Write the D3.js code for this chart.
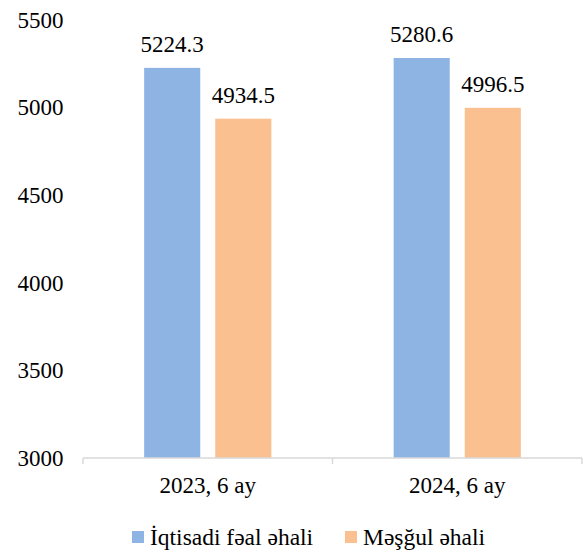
<!DOCTYPE html>
<html>
<head>
<meta charset="utf-8">
<script src="https://cdn.jsdelivr.net/npm/d3@7"></script>
<style>
  html, body { margin: 0; padding: 0; background: #fff; }
</style>
</head>
<body>
<svg id="chart" width="583" height="552"></svg>
<script>
// Population figures, thousand persons
const categories = ["2023, 6 ay", "2024, 6 ay"];
const seriesNames = ["İqtisadi fəal əhali", "Məşğul əhali"];
const activeValues = [5224.3, 5280.6];
const employedValues = [4934.5, 4996.5];
const yTicks = [3000, 3500, 4000, 4500, 5000, 5500];
const colors = ["#8EB4E3", "#FAC090"];

const svg = d3.select("#chart");
const plotLeft = 83, plotRight = 582, plotTop = 19.5, plotBottom = 458;
const fontFamily = "Liberation Serif";
const fontSize = 23;

const x = d3.scaleBand()
  .domain(categories)
  .range([plotLeft, plotRight]);

const xs = d3.scaleBand()
  .domain(seriesNames)
  .range([0, x.bandwidth()])
  .paddingInner(0.211)
  .paddingOuter(0.86);

const y = d3.scaleLinear()
  .domain([3000, 5500])
  .range([plotBottom, plotTop]);

// y tick labels (no axis line)
svg.append("g")
  .selectAll("text")
  .data(yTicks)
  .join("text")
  .attr("x", 63.5)
  .attr("y", d => y(d) + 8)
  .attr("text-anchor", "end")
  .attr("font-family", fontFamily)
  .attr("font-size", fontSize)
  .text(d => d);

// bars
const rows = categories.map((c, i) => ({
  cat: c,
  vals: [activeValues[i], employedValues[i]]
}));

const groups = svg.append("g")
  .selectAll("g")
  .data(rows)
  .join("g")
  .attr("transform", d => `translate(${x(d.cat)},0)`);

const cells = d => d.vals.map((v, j) => ({ name: seriesNames[j], v, j }));

groups.selectAll("rect")
  .data(cells)
  .join("rect")
  .attr("x", d => xs(d.name))
  .attr("width", xs.bandwidth())
  .attr("y", d => y(d.v))
  .attr("height", d => y(3000) - y(d.v))
  .attr("fill", d => colors[d.j]);

groups.selectAll("text.val")
  .data(cells)
  .join("text")
  .attr("class", "val")
  .attr("x", d => xs(d.name) + xs.bandwidth() / 2)
  .attr("y", d => y(d.v) - 15.5)
  .attr("text-anchor", "middle")
  .attr("font-family", fontFamily)
  .attr("font-size", fontSize)
  .text(d => d.v.toFixed(1));

// x axis: baseline, category boundary ticks, labels
const gx = svg.append("g")
  .attr("transform", `translate(0,${plotBottom})`);
gx.append("line")
  .attr("x1", plotLeft).attr("x2", plotRight)
  .attr("y1", 0).attr("y2", 0)
  .attr("stroke", "#d9d9d9").attr("stroke-width", 1.5);
const boundaries = [x(categories[0]), x(categories[1]), x(categories[1]) + x.bandwidth()];
gx.selectAll("line.tick")
  .data(boundaries)
  .join("line")
  .attr("class", "tick")
  .attr("x1", d => d).attr("x2", d => d)
  .attr("y1", 0).attr("y2", 6)
  .attr("stroke", "#d9d9d9").attr("stroke-width", 1.5);
gx.selectAll("text")
  .data(categories)
  .join("text")
  .attr("x", d => x(d) + x.bandwidth() / 2)
  .attr("y", 34.7)
  .attr("text-anchor", "middle")
  .attr("font-family", fontFamily)
  .attr("font-size", fontSize)
  .text(d => d);

// legend
const legendItems = [
  { name: seriesNames[0], color: colors[0], sx: 132, tx: 150 },
  { name: seriesNames[1], color: colors[1], sx: 345, tx: 363 }
];
const lg = svg.append("g");
lg.selectAll("rect")
  .data(legendItems)
  .join("rect")
  .attr("x", d => d.sx)
  .attr("y", 531)
  .attr("width", 12)
  .attr("height", 12)
  .attr("fill", d => d.color);
lg.selectAll("text")
  .data(legendItems)
  .join("text")
  .attr("x", d => d.tx)
  .attr("y", 545)
  .attr("font-family", fontFamily)
  .attr("font-size", 23.5)
  .text(d => d.name);
</script>
</body>
</html>
